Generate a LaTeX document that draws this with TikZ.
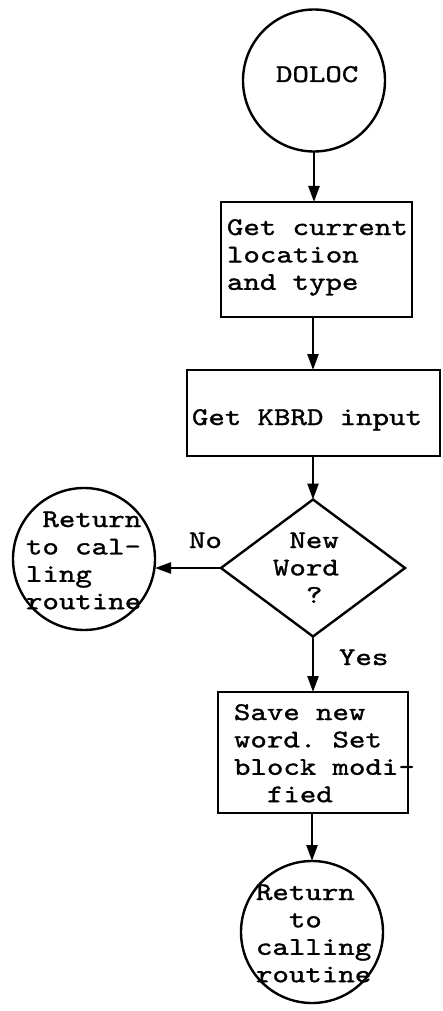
\documentclass[tikz,border=0pt]{standalone}
\usepackage{fontspec}
\usetikzlibrary{shapes.geometric,arrows.meta}
% widened typewriter face for all flowchart lettering
\newfontfamily\typewriter[FakeStretch=1.23,FakeBold=1.2]{lmmono10-regular.otf}
% word spaces as wide as one character cell
\DeclareRobustCommand{\flowfont}{\typewriter\fontsize{25.5}{27.4}\selectfont
  \frenchspacing\spaceskip=16.2pt\relax\xspaceskip=16.2pt\relax}
% one blank character cell of the typewriter font
\newcommand{\cell}{\hphantom{x}}
\begin{document}
\begin{tikzpicture}[x=1pt,y=-1pt,
  every node/.style={outer sep=0pt},
  termcircle/.style={draw, line width=2.4pt, circle, minimum size=142pt, inner sep=0pt},
  procbox/.style={draw, line width=2.4pt, rectangle, inner sep=0pt},
  decision/.style={draw, line width=2.4pt, diamond, inner sep=0pt,
                   minimum width=184pt, minimum height=137pt},
  flowtext/.style={anchor=base west, inner sep=0pt, align=flush left, text width=300pt,
                   font=\flowfont},
  flowarrow/.style={line width=2.4pt, -{Triangle[length=16pt,width=11pt]}}]

\path[fill=white, use as bounding box] (0,0) rectangle (442,1011);

% shapes
\node[termcircle] (doloc) at (314,80.5) {};
\node[procbox, minimum width=191pt, minimum height=115pt] (getloc) at (316.5,259.5) {};
\node[procbox, minimum width=253pt, minimum height=86pt] (kbrd) at (313.5,413) {};
\node[decision] (dia) at (313,568) {};
\node[termcircle] (ret1) at (84,559) {};
\node[procbox, minimum width=190pt, minimum height=121pt] (save) at (313,752.5) {};
\node[termcircle] (ret2) at (312,932) {};

% texts
\node[flowtext] (doloc-t) at (276,82) {DOLOC};
\node[flowtext] (getloc-t) at (227,235) {Get current\\location\\and type};
\node[flowtext] (kbrd-t) at (192,425) {Get KBRD input};
\node[flowtext] (dia-t) at (273,548) {\cell New\\Word\\\cell\cell ?};
\node[flowtext] (ret1-t) at (26,527) {\cell Return\\to cal-\\ling\\routine};
\node[flowtext] (save-t) at (234,720) {Save new\\word. Set\\block modi-\\\cell\cell fied};
\node[flowtext] (ret2-t) at (256,900) {Return\\\cell\cell to\\calling\\routine};
\node[flowtext] (no-t) at (189,548) {No};
\node[flowtext] (yes-t) at (339,665) {Yes};

% connectors
\draw[flowarrow] (doloc.south) -- (doloc.south |- getloc.north);
\draw[flowarrow] (getloc.south -| dia.north) -- (kbrd.north -| dia.north);
\draw[flowarrow] (kbrd.south -| dia.north) -- (dia.north);
\draw[flowarrow] (dia.west) -- (ret1.east |- dia.west);
\draw[flowarrow] (dia.south) -- (dia.south |- save.north);
\draw[flowarrow] (save.south -| ret2.north) -- (ret2.north);
\end{tikzpicture}
\end{document}
